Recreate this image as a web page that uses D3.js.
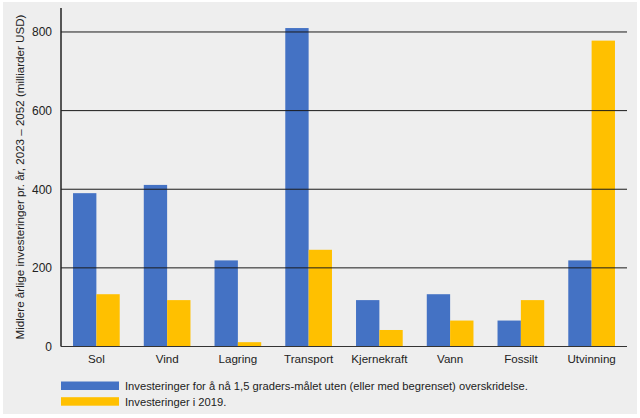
<!DOCTYPE html>
<html><head><meta charset="utf-8">
<script src="https://cdn.jsdelivr.net/npm/d3@7"></script>
<style>html,body{margin:0;padding:0;background:#fff;}svg{display:block;font-family:"Liberation Sans",Arial,sans-serif;}</style>
</head><body>
<svg id="c" width="640" height="418"></svg>
<script>
const categories = ["Sol","Vind","Lagring","Transport","Kjernekraft","Vann","Fossilt","Utvinning"];
const needed = [390,411,219,810,118,133,66,219];
const actual2019 = [133,118,11,246,42,66,118,778];
const yTicks = [0,200,400,600,800];
const seriesNames = ["Investeringer for å nå 1,5 graders-målet uten (eller med begrenset) overskridelse.","Investeringer i 2019."];
const colors = ["#4472C4","#FFC000"];
const yTitle = "Midlere årlige investeringer pr. år, 2023 – 2052 (milliarder USD)";

const svg = d3.select("#c");
svg.append("rect").attr("x",3).attr("y",2).attr("width",634).attr("height",412).attr("fill","#eeeeee");

const L=61, R=627, T=8, B=346.5;
const x = d3.scaleBand().domain(categories).range([L,R]).paddingInner(0.34).paddingOuter(0.17);
const x1 = d3.scaleBand().domain([0,1]).range([0,x.bandwidth()]);
const y = d3.scaleLinear().domain([0,861]).range([B,T]);

const data = categories.map((c,i)=>({c, v:[needed[i],actual2019[i]]}));
const g = svg.append("g");
g.selectAll("g.cat").data(data).join("g").attr("transform",d=>`translate(${x(d.c)},0)`)
 .selectAll("rect").data(d=>d.v.map((v,k)=>({v,k}))).join("rect")
 .attr("x",d=>x1(d.k)).attr("width",x1.bandwidth()).attr("y",d=>y(d.v)).attr("height",d=>B-y(d.v))
 .attr("fill",d=>colors[d.k]);

// gridlines on top
svg.append("g").selectAll("line").data(yTicks.filter(t=>t>0)).join("line")
 .attr("x1",L).attr("x2",R).attr("y1",d=>y(d)).attr("y2",d=>y(d)).attr("stroke","#1a1a1a").attr("stroke-width",1);

// y axis
const ya = svg.append("g").attr("transform",`translate(${L},0)`).call(d3.axisLeft(y).tickValues(yTicks).tickSize(0).tickPadding(9));
ya.select(".domain").remove();
ya.selectAll("text").attr("font-size",12).attr("fill","#222").attr("font-family","Liberation Sans, Arial, sans-serif");
svg.append("line").attr("x1",L).attr("x2",L).attr("y1",T).attr("y2",B).attr("stroke","#222").attr("stroke-width",1.5);
// x axis
const xa = svg.append("g").attr("transform",`translate(0,${B})`).call(d3.axisBottom(x).tickSize(0).tickPadding(8));
xa.select(".domain").remove();
xa.selectAll("text").attr("font-size",11.6).attr("fill","#222").attr("font-family","Liberation Sans, Arial, sans-serif");
svg.append("line").attr("x1",L).attr("x2",R).attr("y1",B).attr("y2",B).attr("stroke","#333").attr("stroke-width",1.2);

// y title
svg.append("text").attr("transform","translate(24,177) rotate(-90)").attr("text-anchor","middle")
 .attr("font-size",11.6).attr("fill","#222").text(yTitle);

// legend
const lg = svg.append("g");
seriesNames.forEach((n,i)=>{
  const yy = 381.5 + i*15.7;
  lg.append("rect").attr("x",61).attr("y",yy).attr("width",58).attr("height",8.5).attr("fill",colors[i]);
  lg.append("text").attr("x",125).attr("y",yy+8.5).attr("font-size",11.2).attr("fill","#222").text(n);
});
</script>
</body></html>
